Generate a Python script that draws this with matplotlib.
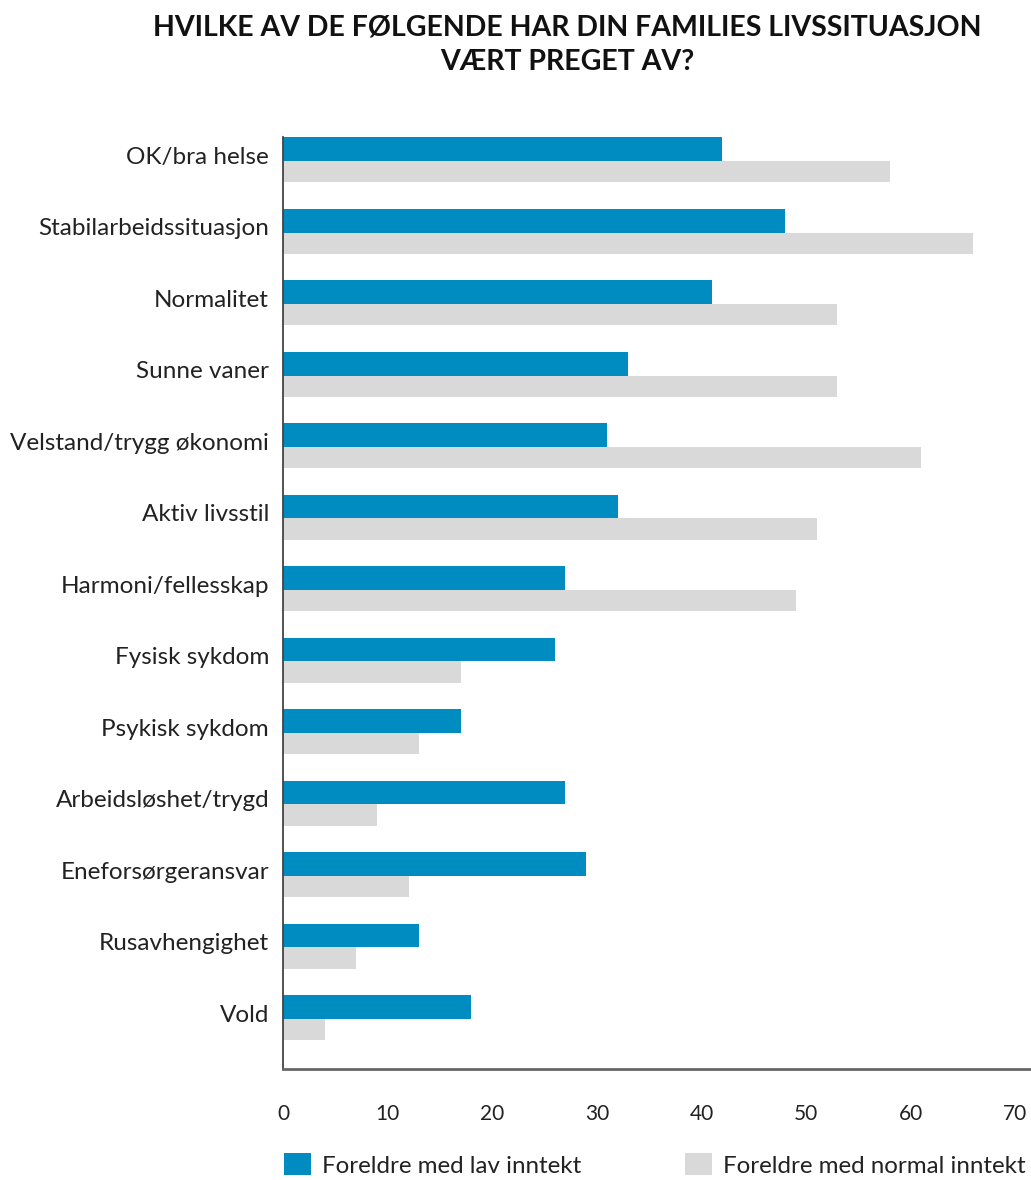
import matplotlib
matplotlib.use("Agg")
import matplotlib.pyplot as plt
from matplotlib.patches import Patch
import numpy as np

categories = ["OK/bra helse", "Stabilarbeidssituasjon", "Normalitet", "Sunne vaner",
              "Velstand/trygg økonomi", "Aktiv livsstil", "Harmoni/fellesskap",
              "Fysisk sykdom", "Psykisk sykdom", "Arbeidsløshet/trygd",
              "Eneforsørgeransvar", "Rusavhengighet", "Vold"]
lav = [42, 48, 41, 33, 31, 32, 27, 26, 17, 27, 29, 13, 18]
normal = [58, 66, 53, 53, 61, 51, 49, 17, 13, 9, 12, 7, 4]
xticks = [0, 10, 20, 30, 40, 50, 60, 70]
series_names = ["Foreldre med lav inntekt", "Foreldre med normal inntekt"]

blue = "#008CC1"
gray = "#D9D9D9"

plt.rcParams['font.family'] = ['Lato', 'DejaVu Sans']

fig = plt.figure(figsize=(10.31, 11.8), dpi=100)
ax = fig.add_axes([283/1031, 1 - 1069/1180, 1 - 283/1031, (1069 - 137)/1180])

y = np.arange(len(categories))
hb = 0.335
hg = 0.295
ax.barh(y - hb/2, lav, height=hb, color=blue)
ax.barh(y + hg/2, normal, height=hg, color=gray)

ax.set_ylim(12.70, -0.336)
ax.set_xlim(0, 71.5)
ax.set_yticks(y - 0.08)
ax.set_yticklabels(categories, fontsize=17.5, color="#222222")
ax.set_xticks(xticks)
ax.set_xticklabels([str(t) for t in xticks], fontsize=15, color="#222222")
ax.tick_params(axis='both', length=0)
ax.tick_params(axis='x', pad=25)
ax.tick_params(axis='y', pad=10)
for s in ["top", "right"]:
    ax.spines[s].set_visible(False)
ax.spines["left"].set_color("#444444")
ax.spines["bottom"].set_color("#666666")
ax.spines["left"].set_linewidth(1.3)
ax.spines["bottom"].set_linewidth(2)

fig.text(0.55, 0.988, "HVILKE AV DE FØLGENDE HAR DIN FAMILIES LIVSSITUASJON\nVÆRT PREGET AV?",
         ha="center", va="top", fontsize=20.5, fontweight="bold", linespacing=1.42,
         color="#111111")

handles = [Patch(facecolor=blue), Patch(facecolor=gray)]
leg = fig.legend(handles, series_names, loc="center left", bbox_to_anchor=(284/1031, 1 - 1165/1180),
                 ncol=2, frameon=False, fontsize=17.4, handlelength=1.12, handleheight=1.0,
                 handletextpad=0.45, columnspacing=4.3, borderpad=0, borderaxespad=0)
for t in leg.get_texts():
    t.set_color("#222222")

fig.savefig("out.png", dpi=100)
